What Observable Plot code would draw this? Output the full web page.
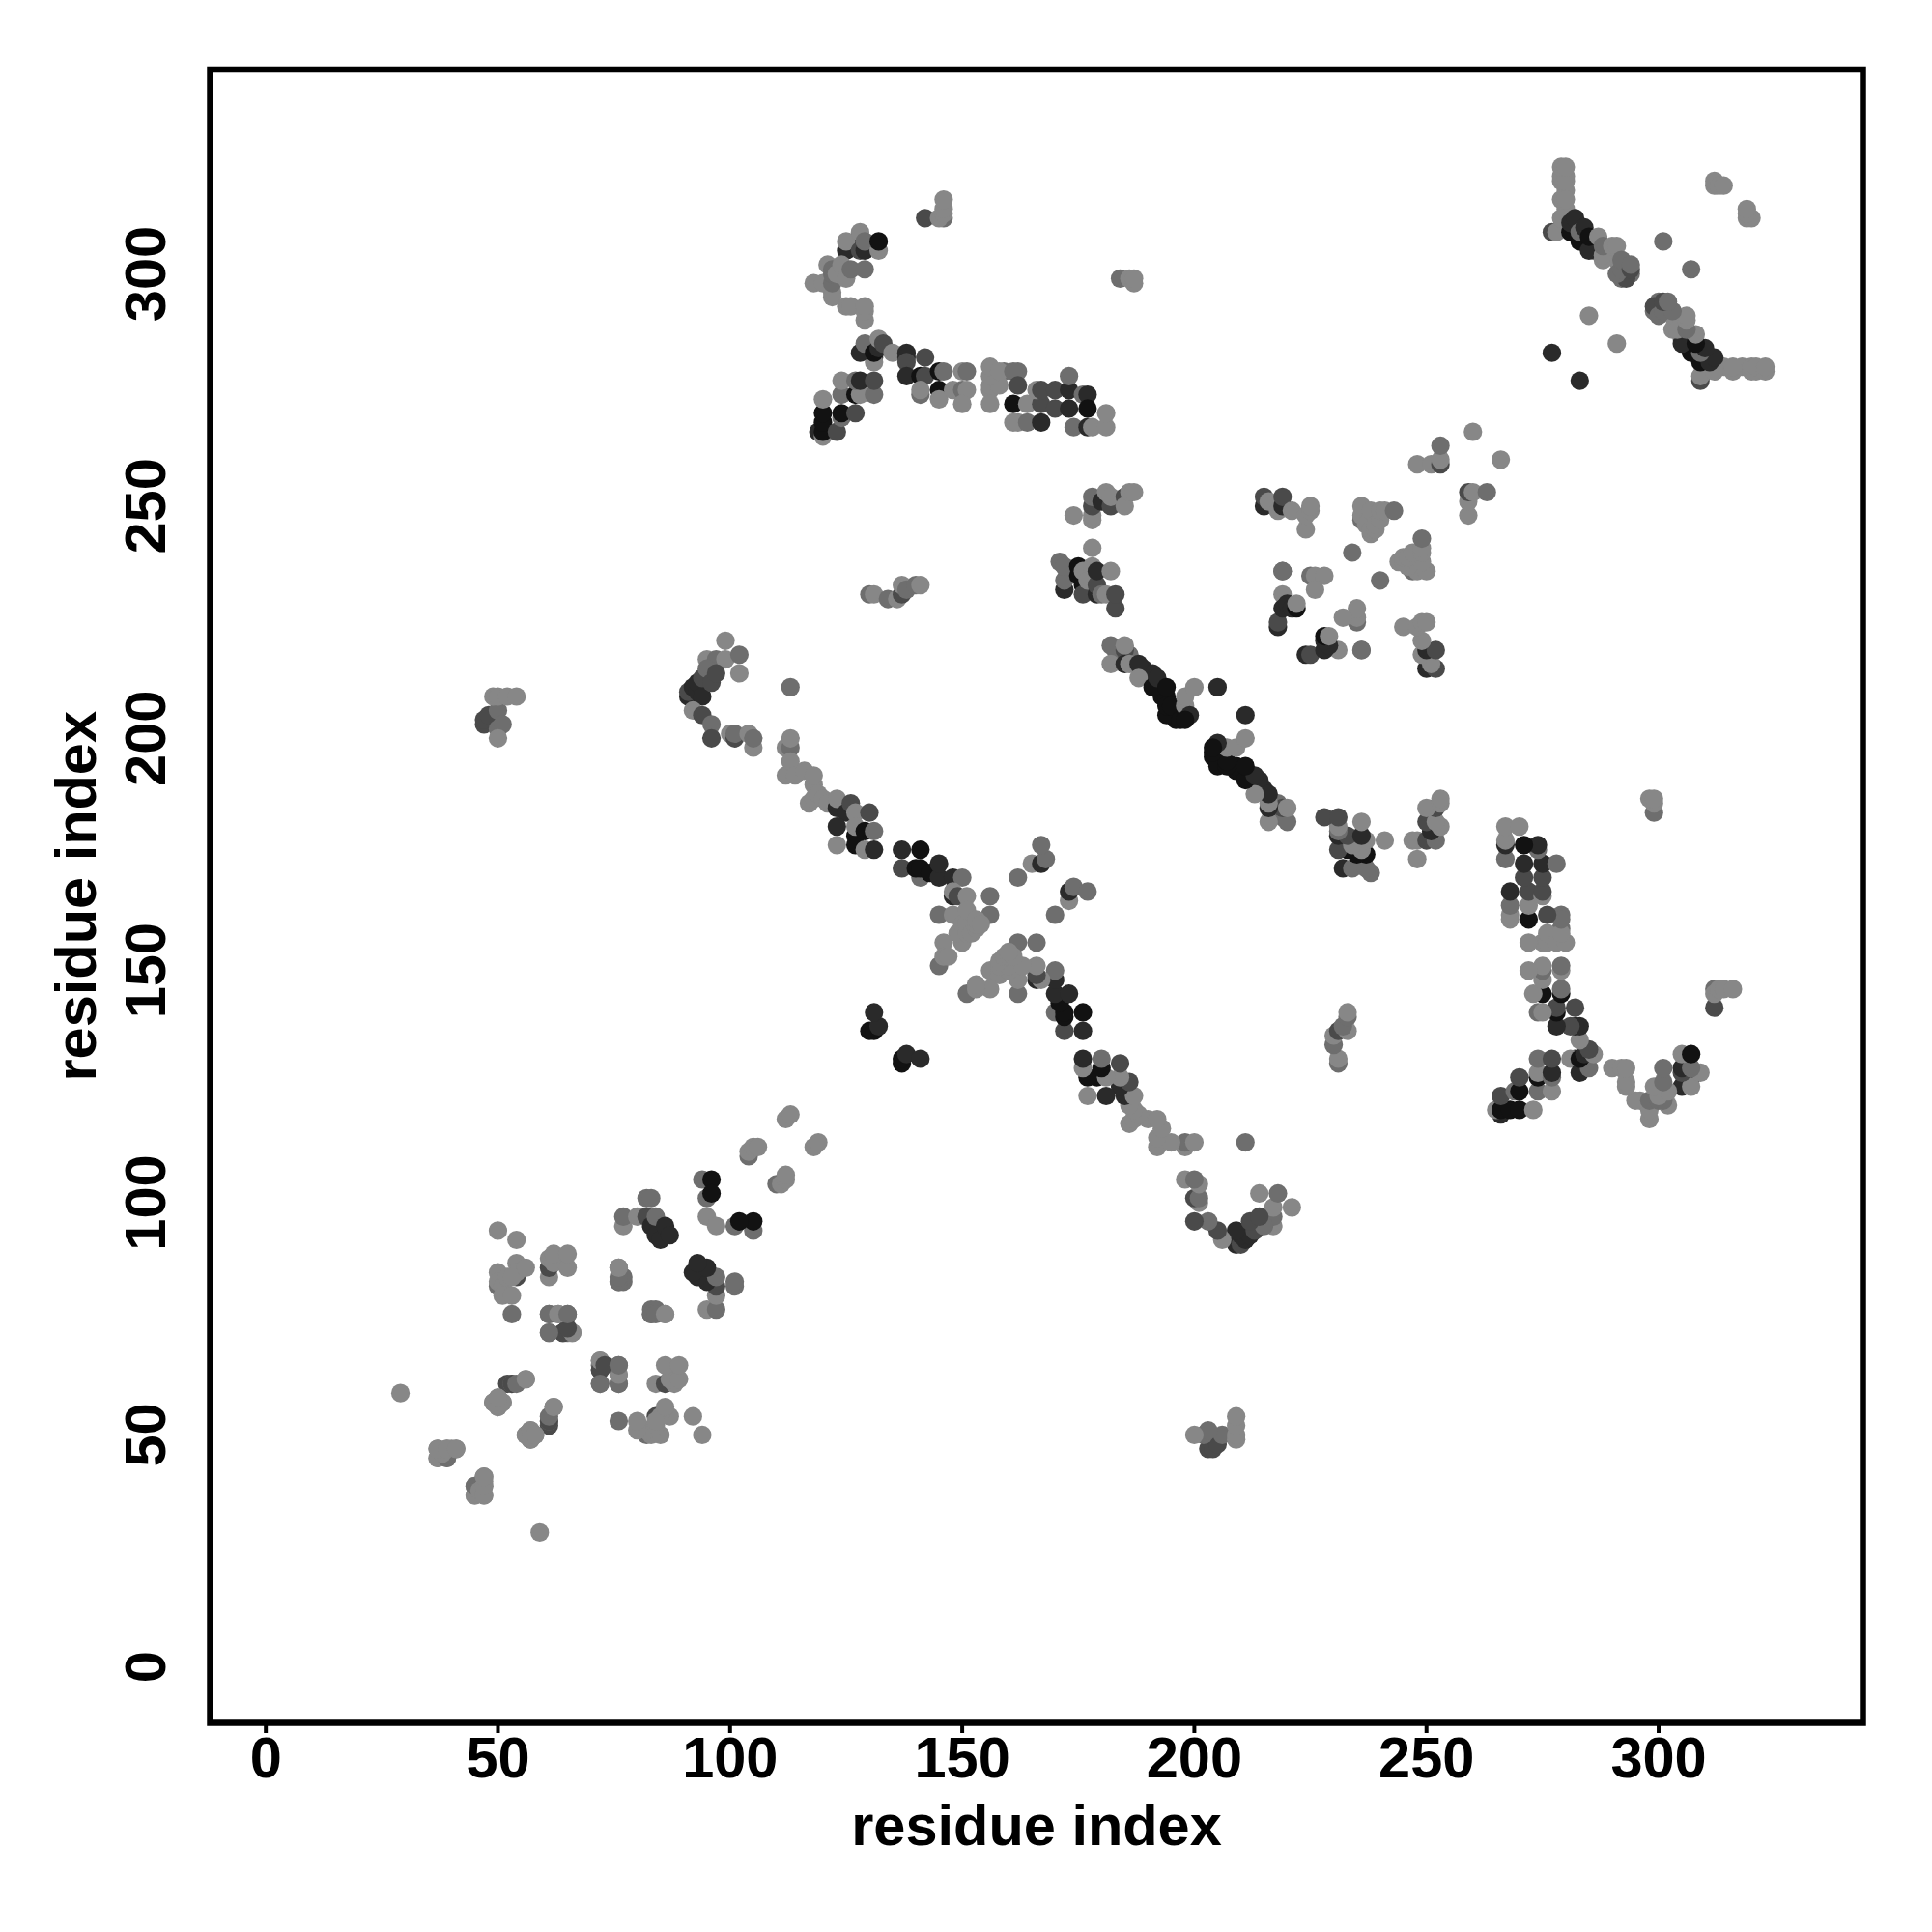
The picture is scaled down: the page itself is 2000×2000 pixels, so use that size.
<!DOCTYPE html>
<html>
<head>
<meta charset="utf-8">
<script src="https://cdn.jsdelivr.net/npm/d3@7"></script>
<script src="https://cdn.jsdelivr.net/npm/@observablehq/plot@0.6"></script>
<style>
html,body{margin:0;padding:0;background:#fff}
svg{display:block}
</style>
</head>
<body>
<div id="chart"></div>
<script>
const L="L",M="M",D="D",K="K",B="B";
const shadeNames=[L,M,D,K,B];
const shadeGreys=["#878787","#6e6e6e","#4a4a4a","#2a2a2a","#121212"];
const tickValues=[0,50,100,150,200,250,300];
const axisLabel="residue index";

// Each contact is [residue i, residue j, shade]; the map is symmetric, so (j,i) is drawn as well.
const strandFill=[
[193,211,B],[193,209,B],[194,209,B],[190,214,K],[189,215,K],[187,216,K],[192,212,B],[196,204,B],[196,205,B],[198,205,B],[198,206,B],[191,214,K],[186,218,M],[184,217,L],[183,219,M],[195,205,B],
[280,318,L],[279,316,L],[280,314,L],[279,310,L],[280,312,L],
[289,305,L],[290,304,L],[291,303,L],[293,302,M],[294,300,M],[292,299,M],[282,310,B],[284,307,B],[283,310,K],[286,306,K],[286,305,M],
[122,296,L],[162,268,L],[162,279,M],[157,276,L],[159,279,M],[156,275,L],[131,282,K]
];
const strandNear=[
[29,59,L],[50,94,L],[54,92,L],
[50,82,M],[50,85,L],[50,83,L],[51,82,L],[51,80,L],[53,80,L],[53,76,M],
[54,84,D],[52,84,L],[54,87,L],[54,85,L],[53,84,L],[56,86,L],
[61,84,L],[61,86,D],[61,88,L],[62,87,L],[62,89,L],[65,86,L],[65,89,L],
[61,76,M],[63,76,L],[65,76,M],[61,72,M],[64,72,D],[65,72,M],[66,72,L],
[72,64,D],[72,66,L],[73,65,D],[72,61,M],[76,61,M],[76,63,L],[76,65,M],
[76,86,L],[76,83,M],[77,83,M],[77,84,M],
[83,76,M],[84,76,M],[86,76,L],
[77,95,L],[77,97,M],[80,97,L],[82,101,M],[83,101,M],
[82,97,D],[83,95,K],[84,93,K],[85,92,K],[84,97,M],[86,95,K],[87,93,K],
[94,105,M],[96,105,B],[95,101,M],[96,102,B],
[104,110,M],[104,111,L],[105,112,L],[106,112,L],[112,118,L],[113,119,L],
[95,97,L],
[52,61,D],[53,61,M],[56,62,L],[49,57,M],[50,56,L],[50,58,L],[51,57,L],
[61,53,D],[61,54,M],[62,56,L],[56,50,L],[57,49,L],[57,51,L],[58,50,L],
[37,45,L],[37,47,L],[38,46,M],[39,45,L],[39,47,L],[40,47,L],[41,47,L],
[45,37,L],[45,39,M],[46,38,L],[47,37,L],[47,39,L],[47,41,L]
];
const strandLong=[
[99,221,L],[95,217,L],[97,217,M],[99,217,L],[102,218,M],[102,214,L],
[91,209,K],[91,210,D],[92,211,K],[93,210,K],[93,212,K],[94,209,K],[94,213,D],[95,215,M],[96,212,D],[97,214,D],
[92,206,L],[94,205,D],[96,203,M],[96,200,D],
[100,201,L],[101,200,D],[101,201,M],[105,198,L],[104,201,L],[105,200,M],
[112,198,L],[113,198,M],[113,200,L],[113,211,M],
[112,192,L],[113,195,L],[114,192,L],[116,193,L],[117,186,L],[118,187,L],[118,190,L],[118,192,L],[119,188,L],[120,187,L],
[121,186,L],[123,185,K],[123,187,L],[125,184,K],[126,186,D],[127,184,L],[130,184,D],
[123,181,K],[123,177,L],[127,179,B],[127,177,B],[127,181,L],[129,180,B],[131,180,M],[129,176,L],[131,176,K],
[137,172,D],[137,176,K],[141,176,B],[141,170,M],[140,172,B],[141,172,B],[143,171,B],[145,170,K],[145,173,K],[148,170,K],[150,170,M],
[148,166,K],[148,167,L],[149,166,D],[151,166,L],[156,166,M],[145,162,M],[148,162,L],[156,162,M],
[150,156,L],[149,158,L],[150,160,L],[151,158,L],[151,160,L],[151,163,L],[152,158,L],[153,159,L],[153,160,L],[153,161,L],[154,160,L],
[146,156,L],[145,151,M],[146,153,L],[147,153,L],
[162,170,M],[165,173,L],[167,173,K],[168,174,M],[167,177,M],
[130,137,B],[131,137,B],[132,138,K],[131,141,K]
];
const strandTop=[
[142,312,D],[146,312,M],[145,312,L],[146,313,L],[146,314,L],[146,316,L],
[127,307,K],[125,305,K],[125,307,L],[128,305,D],[129,305,K],[128,309,L],[129,307,M],[132,305,L],[132,307,B],
[118,298,L],[120,298,L],[122,295,L],[121,302,L],[122,298,M],[122,300,M],[122,301,M],[123,300,L],[124,302,L],[125,299,L],[126,301,M],[129,301,M],
[125,293,L],[126,293,L],[129,290,L],[129,292,L],[129,293,L],
[119,266,K],[120,265,L],[120,266,B],[120,268,B],[120,270,B],[120,273,L],[123,266,D],[124,269,M],[124,270,B],[127,270,D],
[124,274,M],[127,274,B],[128,274,L],[124,277,L],[127,277,M],[128,277,K],[131,274,M],[131,277,D],[131,281,L],
[128,283,K],[129,285,M],[131,283,B],[132,284,K],[132,286,L],[133,285,D],[135,283,L],
[138,283,K],[138,282,K],[138,281,D],[138,278,K],[141,278,B],[142,278,D],[142,282,D],[145,279,B],[146,279,M],[150,279,L],[151,279,M],
[141,274,M],[141,275,L],[145,275,B],[145,273,L],[148,275,L],[150,275,M],[151,275,L],[150,272,L],
[156,272,L],[156,276,L],[158,276,L],[156,278,L],[156,280,L],[158,279,L],[161,279,M],
[161,272,B],[162,276,D],[164,272,L],[161,268,L],[164,268,M],[167,268,K],[167,272,D],[166,275,L],[167,275,D],[170,271,D],[170,275,D],
[173,271,K],[173,275,K],[173,278,M],[176,274,M],[177,274,K],[177,271,B],[174,267,M],[177,267,K],[178,267,L],[181,267,L],[181,270,L],
[184,299,M],[186,299,L],[187,298,L],[187,299,L],
[130,231,M],[131,231,L],[134,230,M],[136,230,L],[137,231,D],[137,233,L],[138,232,M],[140,233,M],[141,233,L]
];
const strandMiddle=[
[47,203,D],[47,204,D],[48,205,D],[50,206,M],[50,202,M],[51,203,M],[50,200,L],[49,209,L],[50,209,L],[52,209,L],[54,209,L],
[174,248,L],[178,247,L],[178,248,L],[178,250,D],[178,252,M],[180,251,K],[181,253,L],[182,250,D],[182,252,L],[185,252,D],[185,250,L],[186,253,L],[187,253,L],
[178,241,L],
[172,232,K],[172,234,M],[171,238,M],[172,237,M],[175,237,B],[175,235,B],[176,233,B],[176,231,D],[176,236,L],[177,234,L],
[179,231,K],[179,233,D],[178,237,L],[179,236,K],[180,231,M],[181,231,L],[182,236,L],[183,228,D],[183,231,D],
[182,216,L],[182,220,M],[185,219,D],[185,220,L],[185,216,K],[186,216,L],[188,216,K],[188,213,L],
[191,211,B],[192,213,K],[194,205,B],[194,207,B],[194,211,B],[195,207,B],[197,204,B],[198,207,L],[198,209,L],[200,211,L],[199,205,K],[205,211,K],
[198,204,B],
[215,250,K],[215,252,D],[216,251,L],[218,249,L],[219,250,K],[219,252,D],[221,249,L],[224,245,L],[224,248,L],[225,249,L],[225,250,L],
[236,247,M],[236,248,L],[236,250,L],[237,246,L],[238,244,L],[238,245,L],[238,249,L],[239,245,L],[239,246,L],[240,247,L],[240,249,L],[241,249,L],[243,249,M],
[234,240,M],[219,236,M],[225,235,M],[226,235,L],[228,235,L],[226,232,L],
[218,224,K],[218,225,D],[219,231,L],[219,228,K],[220,229,K],[221,228,K],[222,228,B],[222,229,L],
[219,236,M],[248,259,L],[251,259,L],[253,259,D],[253,260,L],[253,263,M],[260,266,L],
[277,309,D],[278,309,L],[279,312,L],[280,316,L],[279,320,L],[280,320,L],[279,321,L],[280,321,L],[279,323,L],[280,323,L],
[281,309,B],[281,311,K],[282,312,K],[283,307,B],[283,309,M],[284,310,K],[285,305,K],[285,308,B],[287,308,L],
[288,303,L],[288,304,L],[288,306,M],[290,306,L],[291,306,L],[293,299,D],[291,300,M],[292,301,M],[292,303,M],[294,301,D],[294,302,M],
[312,319,L],[312,320,L],[313,319,L],[314,319,L],
[301,307,M],[285,291,L],[277,283,K]
];

const contacts=[...strandFill,...strandNear,...strandLong,...strandTop,...strandMiddle]
  .flatMap(([i,j,s])=>[{x:i,y:j,shade:s},{x:j,y:i,shade:s}]);

const textStyle={fontFamily:"'Liberation Sans',Arial,Helvetica,sans-serif",fontWeight:"bold",fontSize:59.5};

const chart=Plot.plot({
  width:2000,height:2000,
  marginLeft:217,marginRight:72,marginTop:71.5,marginBottom:217,
  style:{background:"#fff",color:"#000"},
  x:{domain:[-12,344],label:null},
  y:{domain:[-12,344],label:null},
  color:{type:"ordinal",domain:shadeNames,range:shadeGreys},
  marks:[
    Plot.dot(contacts,{x:"x",y:"y",r:9.6,fill:"shade",stroke:"none"}),
    Plot.frame({stroke:"#000",strokeWidth:6.5}),
    Plot.axisX({ticks:tickValues,tickSize:11,strokeWidth:4,tickPadding:3,label:null,...textStyle}),
    Plot.axisY({ticks:tickValues,tickSize:11,strokeWidth:4,tickPadding:55,rotate:-90,textAnchor:"middle",label:null,...textStyle}),
    Plot.text([axisLabel],{frameAnchor:"bottom",dy:126,...textStyle}),
    Plot.text([axisLabel],{frameAnchor:"left",dx:-138,rotate:-90,textAnchor:"middle",...textStyle})
  ]
});
document.getElementById("chart").appendChild(chart);
</script>
</body>
</html>
